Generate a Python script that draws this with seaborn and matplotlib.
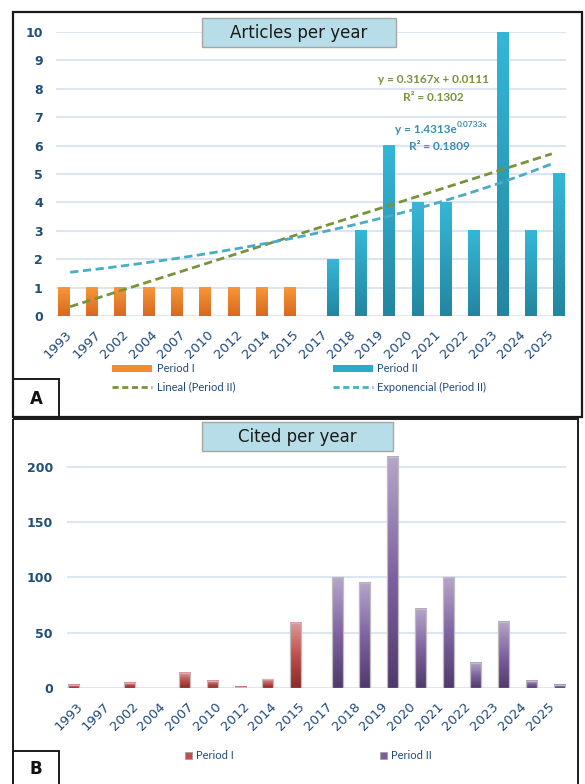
import numpy as np
import pandas as pd
import matplotlib
matplotlib.use("Agg")
import matplotlib.pyplot as plt
from matplotlib.colors import LinearSegmentedColormap
from matplotlib.patches import Rectangle
from matplotlib.lines import Line2D
import seaborn as sns

# ---- data -------------------------------------------------------------
years = ["1993", "1997", "2002", "2004", "2007", "2010", "2012", "2014", "2015",
         "2017", "2018", "2019", "2020", "2021", "2022", "2023", "2024", "2025"]
periods = ["Period I"] * 9 + ["Period II"] * 9
articles = [1, 1, 1, 1, 1, 1, 1, 1, 1,
            2, 3, 6, 4, 4, 3, 10, 3, 5]
citations = [3, 0, 5, 0, 14, 7, 1, 8, 59,
             100, 95, 209, 72, 100, 23, 60, 7, 3]

df = pd.DataFrame({"year": years, "period": periods,
                   "articles": articles, "citations": citations})

# ---- style ------------------------------------------------------------
sns.set_theme(style="white")
plt.rcParams["font.family"] = ["DejaVu Sans"]

W, H = 585, 784
fig = plt.figure(figsize=(W / 100, H / 100), dpi=100)


def box(x0, y0, x1, y1):
    """Pixel box (top-left origin) -> figure fraction rect."""
    return [x0 / W, 1 - y1 / H, (x1 - x0) / W, (y1 - y0) / H]


TICK = "#1F4E79"
GRID = "#DCE6F2"
LEG = "#1F497D"

cm = {
    "orange": LinearSegmentedColormap.from_list("o", ["#D8691E", "#F7963A"]),
    "teal": LinearSegmentedColormap.from_list("t", ["#23869F", "#35B7D8"]),
    "red": LinearSegmentedColormap.from_list("r", ["#8A2828", "#C0504D", "#DC9A98"]),
    "purple": LinearSegmentedColormap.from_list("p", ["#503A6C", "#8064A2", "#B6A6CA"]),
}


def shade(ax, cmaps, edge=None):
    """Fill every bar with a vertical gradient."""
    grad = np.linspace(0, 1, 128).reshape(-1, 1)
    for p in list(ax.patches):
        h = p.get_height()
        if not np.isfinite(h) or h <= 0:
            p.set_visible(False)
            continue
        x, w = p.get_x(), p.get_width()
        cat = int(round(x + w / 2))
        ax.imshow(grad, extent=[x, x + w, 0, h], origin="lower",
                  cmap=cmaps[periods[cat]], aspect="auto",
                  interpolation="bilinear", zorder=2)
        p.set_facecolor("none")
        p.set_zorder(3)
        if edge:
            p.set_edgecolor(edge)
            p.set_linewidth(0.9)
        else:
            p.set_linewidth(0)


def style_axes(ax, yticks, ylim, ypad):
    ax.set_xlim(-0.5, len(years) - 0.5)
    ax.set_ylim(*ylim)
    ax.set_yticks(yticks)
    ax.yaxis.grid(True, color=GRID, lw=1.5)
    ax.xaxis.grid(False)
    ax.set_axisbelow(True)
    for s in ax.spines.values():
        s.set_visible(False)
    ax.set_xlabel("")
    ax.set_ylabel("")
    ax.tick_params(axis="y", length=0, pad=ypad, labelcolor=TICK, labelsize=9)
    for t in ax.get_yticklabels():
        t.set_fontweight("bold")
    ax.tick_params(axis="x", length=0, pad=12, labelcolor=LEG, labelsize=9.5)
    for t in ax.get_xticklabels():
        t.set_rotation(45)
        t.set_ha("right")
        t.set_va("center")
        t.set_rotation_mode("anchor")
    ax.patch.set_alpha(0)


# ---- panel A: articles per year --------------------------------------
ax1 = fig.add_axes(box(56, 32, 566, 316))
sns.barplot(data=df, x="year", y="articles", hue="period", order=years,
            hue_order=["Period I", "Period II"],
            palette={"Period I": "#F08A2C", "Period II": "#2EA6C6"},
            width=1.0, gap=0.22, dodge=True, errorbar=None,
            legend=False, ax=ax1)
shade(ax1, {"Period I": cm["orange"], "Period II": cm["teal"]})

# trend lines fitted on Period II (Excel-style x = 1..n)
xi = np.arange(1, len(years) + 1)
idx2 = np.array([i for i, p in enumerate(periods) if p == "Period II"])
x2 = idx2 + 1.0
y2 = np.array(articles, dtype=float)[idx2]

a, b = np.polyfit(x2, y2, 1)
r2_lin = 1 - np.sum((y2 - (a * x2 + b)) ** 2) / np.sum((y2 - y2.mean()) ** 2)
k, lnA = np.polyfit(x2, np.log(y2), 1)
A = np.exp(lnA)
ly = np.log(y2)
r2_exp = 1 - np.sum((ly - (k * x2 + lnA)) ** 2) / np.sum((ly - ly.mean()) ** 2)

GREEN = "#77933C"
BLUE = "#4BACC6"
ax1.plot(xi - 1, a * xi + b, color=GREEN, lw=2, ls=(0, (3, 1.6)), zorder=4)
ax1.plot(xi - 1, A * np.exp(k * xi), color=BLUE, lw=2, ls=(0, (3, 1.6)), zorder=4)
style_axes(ax1, range(0, 11), (0, 10), 9.5)

# ---- panel B: cited per year -----------------------------------------
ax2 = fig.add_axes(box(66.7, 455.6, 566, 688.3))
sns.barplot(data=df, x="year", y="citations", hue="period", order=years,
            hue_order=["Period I", "Period II"],
            palette={"Period I": "#C0504D", "Period II": "#8064A2"},
            width=1.0, gap=0.2, dodge=True, errorbar=None,
            legend=False, ax=ax2)
shade(ax2, {"Period I": cm["red"], "Period II": cm["purple"]}, edge="#BDBDBD")
style_axes(ax2, range(0, 201, 50), (0, 210), 10)

# ---- frames, titles, legends -----------------------------------------
ov = fig.add_axes([0, 0, 1, 1], zorder=10)
ov.set_xlim(0, W)
ov.set_ylim(H, 0)
ov.axis("off")

ov.add_patch(Rectangle((13, 12), 569, 405, fill=False, ec="#1a1a1a", lw=1.6))
ov.add_patch(Rectangle((13, 419), 565, 380, fill=False, ec="#1a1a1a", lw=1.4))
ov.add_patch(Rectangle((13, 379), 46, 38, fill=False, ec="#1a1a1a", lw=1.4))
ov.add_patch(Rectangle((13, 751), 46, 40, fill=False, ec="#1a1a1a", lw=1.4))
ov.text(36, 399, "A", ha="center", va="center", fontsize=12, fontweight="bold", color="#111111")
ov.text(36, 769, "B", ha="center", va="center", fontsize=12, fontweight="bold", color="#111111")

for (x0, y0, x1, y1), title in [((202, 17.5, 396, 46.5), "Articles per year"),
                                 ((202, 422, 393, 451), "Cited per year")]:
    ov.add_patch(Rectangle((x0, y0), x1 - x0, y1 - y0, fc="#B7DEE8", ec="#A6A6A6", lw=1))
    ov.text((x0 + x1) / 2, (y0 + y1) / 2 + 0.5, title, ha="center", va="center",
            fontsize=12, color="#1a1a1a")

EQ = dict(family=["Lato", "DejaVu Sans"], fontweight="bold", fontsize=8.5)
ov.text(433, 79, f"y = {a:.4f}x + {b:.4f}", ha="center", va="center", color=GREEN, **EQ)
ov.text(433, 97, f"R² = {r2_lin:.4f}", ha="center", va="center", color=GREEN, **EQ)
EXPC = "#3A8DB0"
ov.text(457, 129, f"y = {A:.4f}e", ha="right", va="center", color=EXPC, **EQ)
ov.text(457, 124, f"{k:.4f}x", ha="left", va="center", color=EXPC,
        family=["Lato", "DejaVu Sans"], fontweight="bold", fontsize=6)
ov.text(439, 146, f"R² = {r2_exp:.4f}", ha="center", va="center", color=EXPC, **EQ)

LG = dict(family=["Lato", "DejaVu Sans"], fontsize=8, color=LEG, va="center", ha="left")
ov.add_patch(Rectangle((112, 365), 40, 6.5, fc="#F28C2E", ec="none"))
ov.text(157, 368, "Period I", **LG)
ov.add_patch(Rectangle((333, 365), 40, 6.5, fc="#2FA9C9", ec="none"))
ov.text(377, 368, "Period II", **LG)
ov.add_line(Line2D([112, 152], [387, 387], color=GREEN, lw=2, ls=(0, (2.2, 1.3))))
ov.text(157, 387, "Lineal (Period II)", **LG)
ov.add_line(Line2D([333, 373], [387, 387], color=BLUE, lw=2, ls=(0, (2.2, 1.3))))
ov.text(377, 387, "Exponencial (Period II)", **LG)

ov.add_patch(Rectangle((185, 752), 7, 7, fc="#C0504D", ec="#A0A0A0", lw=0.6))
ov.text(196, 755.5, "Period I", **LG)
ov.add_patch(Rectangle((380, 752), 7, 7, fc="#7B5F9E", ec="#A0A0A0", lw=0.6))
ov.text(391, 755.5, "Period II", **LG)

fig.savefig("out.png", dpi=100, facecolor="white")
